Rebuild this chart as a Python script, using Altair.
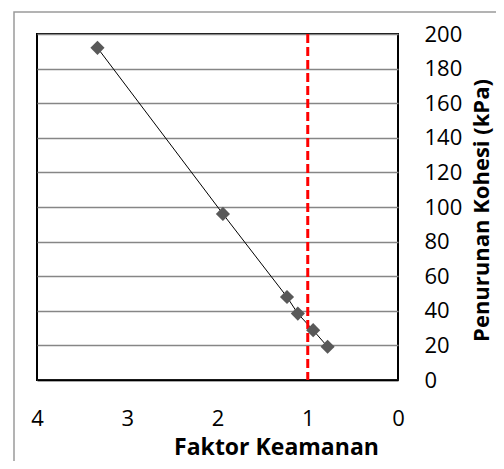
import altair as alt
import pandas as pd

faktor = [3.33, 1.94, 1.23, 1.11, 0.94, 0.78]
kohesi = [192, 96, 48, 38.4, 28.8, 19.2]
batas_fk = [1.0]
x_ticks = [0, 1, 2, 3, 4]
y_ticks = list(range(0, 201, 20))

df = pd.DataFrame({"fk": faktor, "c": kohesi})
df_rule = pd.DataFrame({"fk": batas_fk, "c": [0]})

FONT = "Open Sans"

xscale = alt.Scale(domain=[0, 4], reverse=True, nice=False)
yscale = alt.Scale(domain=[0, 200], nice=False)

xaxis = alt.Axis(values=x_ticks, format="d", grid=False, ticks=False, domainColor="black",
                 domainWidth=1.5, labelFont=FONT, labelFontSize=22, labelColor="black",
                 labelPadding=28, labelFlush=False, title="Faktor Keamanan", titleFont=FONT,
                 titleFontSize=23, titleFontWeight="bold", titleColor="black",
                 titleX=239, titleY=74, titleAlign="center", titleBaseline="alphabetic")
yaxis = alt.Axis(orient="right", values=y_ticks, format="d", grid=True, gridColor="#868686",
                 gridWidth=1.5, ticks=False, domain=False, labelFont=FONT,
                 labelFontSize=22, labelColor="black", labelPadding=26, labelFlush=False,
                 title="Penurunan Kohesi (kPa)", titleFont=FONT, titleFontSize=22,
                 titleFontWeight="bold", titleColor="black", titleAngle=270,
                 titleX=90, titleY=176, titleAlign="center", titleBaseline="alphabetic")

X = alt.X("fk:Q", scale=xscale, axis=xaxis)
Y = alt.Y("c:Q", scale=yscale, axis=yaxis)

frame = alt.Chart(df_rule).mark_rect(fill="transparent", stroke="#9a9a9a", strokeWidth=1.5).encode(
    x=alt.value(-23), x2=alt.value(520), y=alt.value(-22), y2=alt.value(520)
)

line = alt.Chart(df).mark_line(color="black", strokeWidth=1).encode(
    x=X, y=Y, order="c:Q",
)
pts = alt.Chart(df).mark_point(shape="diamond", filled=True, color="#595959", size=200, opacity=1).encode(
    x=X, y=Y,
)
rule = alt.Chart(df_rule).mark_rule(color="#ff0000", strokeWidth=3, strokeDash=[9, 4]).encode(
    x=X,
)

chart = alt.layer(frame, line, rule, pts).properties(
    width=361, height=346,
    padding={"left": 29, "top": 26, "right": 98, "bottom": 81},
    autosize=alt.AutoSizeParams(type="none"),
    background="white",
).configure_view(stroke="black", strokeWidth=2)

chart.save("out.html", embed_options={"renderer": "svg", "actions": False})
